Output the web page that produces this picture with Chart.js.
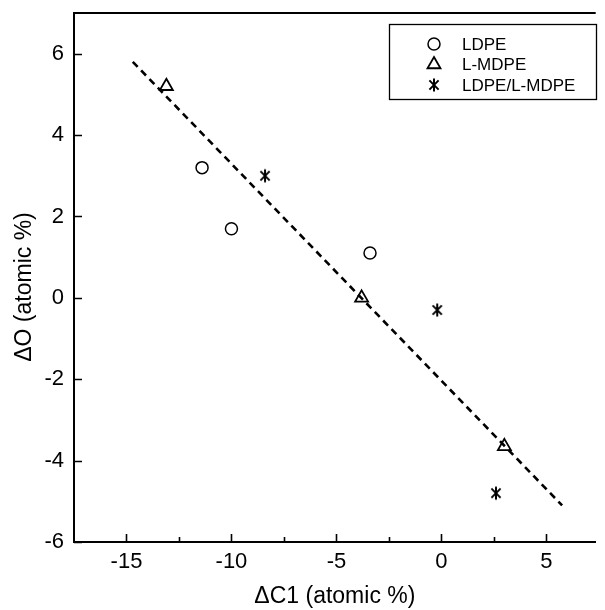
<!DOCTYPE html>
<html>
<head>
<meta charset="utf-8">
<script src="https://cdn.jsdelivr.net/npm/chart.js@4.4.1/dist/chart.umd.min.js"></script>
<style>
  html, body { margin: 0; padding: 0; background: #fff; }
  #wrap { width: 605px; height: 610px; }
</style>
</head>
<body>
<div id="wrap"><canvas id="c" width="605" height="610"></canvas></div>
<script>
// Surface composition change: ΔC1 vs ΔO (atomic %)
const seriesNames = ['LDPE', 'L-MDPE', 'LDPE/L-MDPE'];
const ldpeX = [-11.4, -10.0, -3.4];
const ldpeY = [3.2, 1.7, 1.1];
const lmdpeX = [-13.1, -3.8, 3.0];
const lmdpeY = [5.2, 0.0, -3.65];
const blendX = [-8.4, -0.2, 2.6];
const blendY = [3.0, -0.3, -4.8];
// linear fit drawn as a dashed line
const fitX = [-14.7, 5.75];
const fitY = [5.8, -5.1];
// axis ticks
const xMajorTicks = [-15, -10, -5, 0, 5];
const xMinorTicks = [-12.5, -7.5, -2.5, 2.5];
const yMajorTicks = [-6, -4, -2, 0, 2, 4, 6];
const xTitle = '\u0394C1 (atomic %)';
const yTitle = '\u0394O (atomic %)';

const toPts = (xs, ys) => xs.map((x, i) => ({ x: x, y: ys[i] }));

// asterisk marker: vertical stroke plus two diagonals
function makeAsterisk(size) {
  const cv = document.createElement('canvas');
  cv.width = size; cv.height = size;
  const g = cv.getContext('2d');
  const c = size / 2, r = size / 2 - 1.5;
  g.strokeStyle = '#000';
  g.lineWidth = 2;
  g.beginPath();
  g.moveTo(c, c - r); g.lineTo(c, c + r);
  const d = r * Math.SQRT1_2;
  g.moveTo(c - d, c - d); g.lineTo(c + d, c + d);
  g.moveTo(c - d, c + d); g.lineTo(c + d, c - d);
  g.stroke();
  return cv;
}
const asterisk = makeAsterisk(16);

const FONT = '"Liberation Sans", Arial, sans-serif';

// inward tick marks, top frame line, y title and boxed legend
const framePlugin = {
  id: 'frame',
  afterDraw(chart) {
    const ctx = chart.ctx;
    const xs = chart.scales.x, ys = chart.scales.y;
    const a = chart.chartArea;
    ctx.save();
    ctx.strokeStyle = '#000';
    ctx.lineWidth = 2;
    ctx.beginPath();
    ctx.moveTo(a.left - 1, a.top);
    ctx.lineTo(a.right, a.top);
    ctx.stroke();
    ctx.lineWidth = 1.6;
    ctx.beginPath();
    xMajorTicks.forEach(v => { const p = Math.round(xs.getPixelForValue(v)) + 0.5; ctx.moveTo(p, a.bottom); ctx.lineTo(p, a.bottom - 8); });
    xMinorTicks.forEach(v => { const p = Math.round(xs.getPixelForValue(v)) + 0.5; ctx.moveTo(p, a.bottom); ctx.lineTo(p, a.bottom - 5); });
    yMajorTicks.forEach(v => { const p = Math.round(ys.getPixelForValue(v)) + 0.5; ctx.moveTo(a.left, p); ctx.lineTo(a.left + 8, p); });
    ctx.stroke();

    // y axis title
    ctx.save();
    ctx.translate(25, 287);
    ctx.rotate(-Math.PI / 2);
    ctx.font = '23px ' + FONT;
    ctx.fillStyle = '#000';
    ctx.textAlign = 'center';
    ctx.textBaseline = 'middle';
    ctx.fillText(yTitle, 0, 0);
    ctx.restore();

    // legend
    const bx = 389, by = 24, bw = 207, bh = 75;
    ctx.lineWidth = 1.3;
    ctx.strokeRect(bx + 0.5, by + 0.5, bw, bh);
    const rows = [44, 64.5, 85];
    chart.data.datasets.slice(0, 3).forEach((ds, i) => {
      const sx = 434, sy = rows[i];
      ctx.fillStyle = 'rgba(0,0,0,0)';
      ctx.strokeStyle = '#000';
      ctx.lineWidth = ds.pointBorderWidth || 1.5;
      Chart.helpers.drawPoint(ctx, {
        pointStyle: ds.pointStyle, radius: ds.pointRadius, rotation: 0,
        borderWidth: ds.pointBorderWidth || 1.5
      }, sx, sy);
      ctx.font = '17px ' + FONT;
      ctx.fillStyle = '#000';
      ctx.textAlign = 'left';
      ctx.textBaseline = 'middle';
      ctx.fillText(ds.label, 462, sy + 1);
    });
    ctx.restore();
  }
};

new Chart(document.getElementById('c'), {
  type: 'scatter',
  data: {
    datasets: [
      { label: seriesNames[0], data: toPts(ldpeX, ldpeY), pointStyle: 'circle', pointRadius: 6,
        pointBorderWidth: 1.5, borderColor: '#000', backgroundColor: 'rgba(0,0,0,0)' },
      { label: seriesNames[1], data: toPts(lmdpeX, lmdpeY), pointStyle: 'triangle', pointRadius: 7.5,
        pointBorderWidth: 1.8, borderColor: '#000', backgroundColor: 'rgba(0,0,0,0)' },
      { label: seriesNames[2], data: toPts(blendX, blendY), pointStyle: asterisk, pointRadius: 8,
        borderColor: '#000', backgroundColor: '#000' },
      { type: 'line', label: 'fit', data: toPts(fitX, fitY), borderColor: '#000', borderWidth: 2.6,
        borderDash: [7, 5], pointRadius: 0, fill: false, tension: 0 }
    ]
  },
  options: {
    responsive: false,
    animation: false,
    events: [],
    layout: { padding: { top: 13, right: 0, left: 0, bottom: 0 } },
    plugins: { legend: { display: false }, tooltip: { enabled: false } },
    scales: {
      x: {
        type: 'linear', min: -17.5, max: 7.35,
        afterBuildTicks: s => { s.ticks = xMajorTicks.map(v => ({ value: v })); },
        afterFit: s => { s.height = 68; s.paddingLeft = 0; s.paddingRight = 0; },
        grid: { display: true, drawOnChartArea: false, drawTicks: false },
        border: { display: true, color: '#000', width: 2 },
        ticks: { color: '#000', font: { family: FONT, size: 22 }, padding: 7, maxRotation: 0 },
        title: { display: true, text: xTitle, color: '#000',
                 font: { family: FONT, size: 23 }, padding: { top: 0, bottom: 0 } }
      },
      y: {
        type: 'linear', min: -6, max: 7,
        afterBuildTicks: s => { s.ticks = yMajorTicks.map(v => ({ value: v })); },
        afterFit: s => { s.width = 74; s.paddingTop = 0; s.paddingBottom = 0; },
        grid: { display: true, drawOnChartArea: false, drawTicks: false },
        border: { display: true, color: '#000', width: 2 },
        ticks: { color: '#000', font: { family: FONT, size: 22 }, padding: 10 },
        title: { display: false }
      }
    }
  },
  plugins: [framePlugin]
});
</script>
</body>
</html>
